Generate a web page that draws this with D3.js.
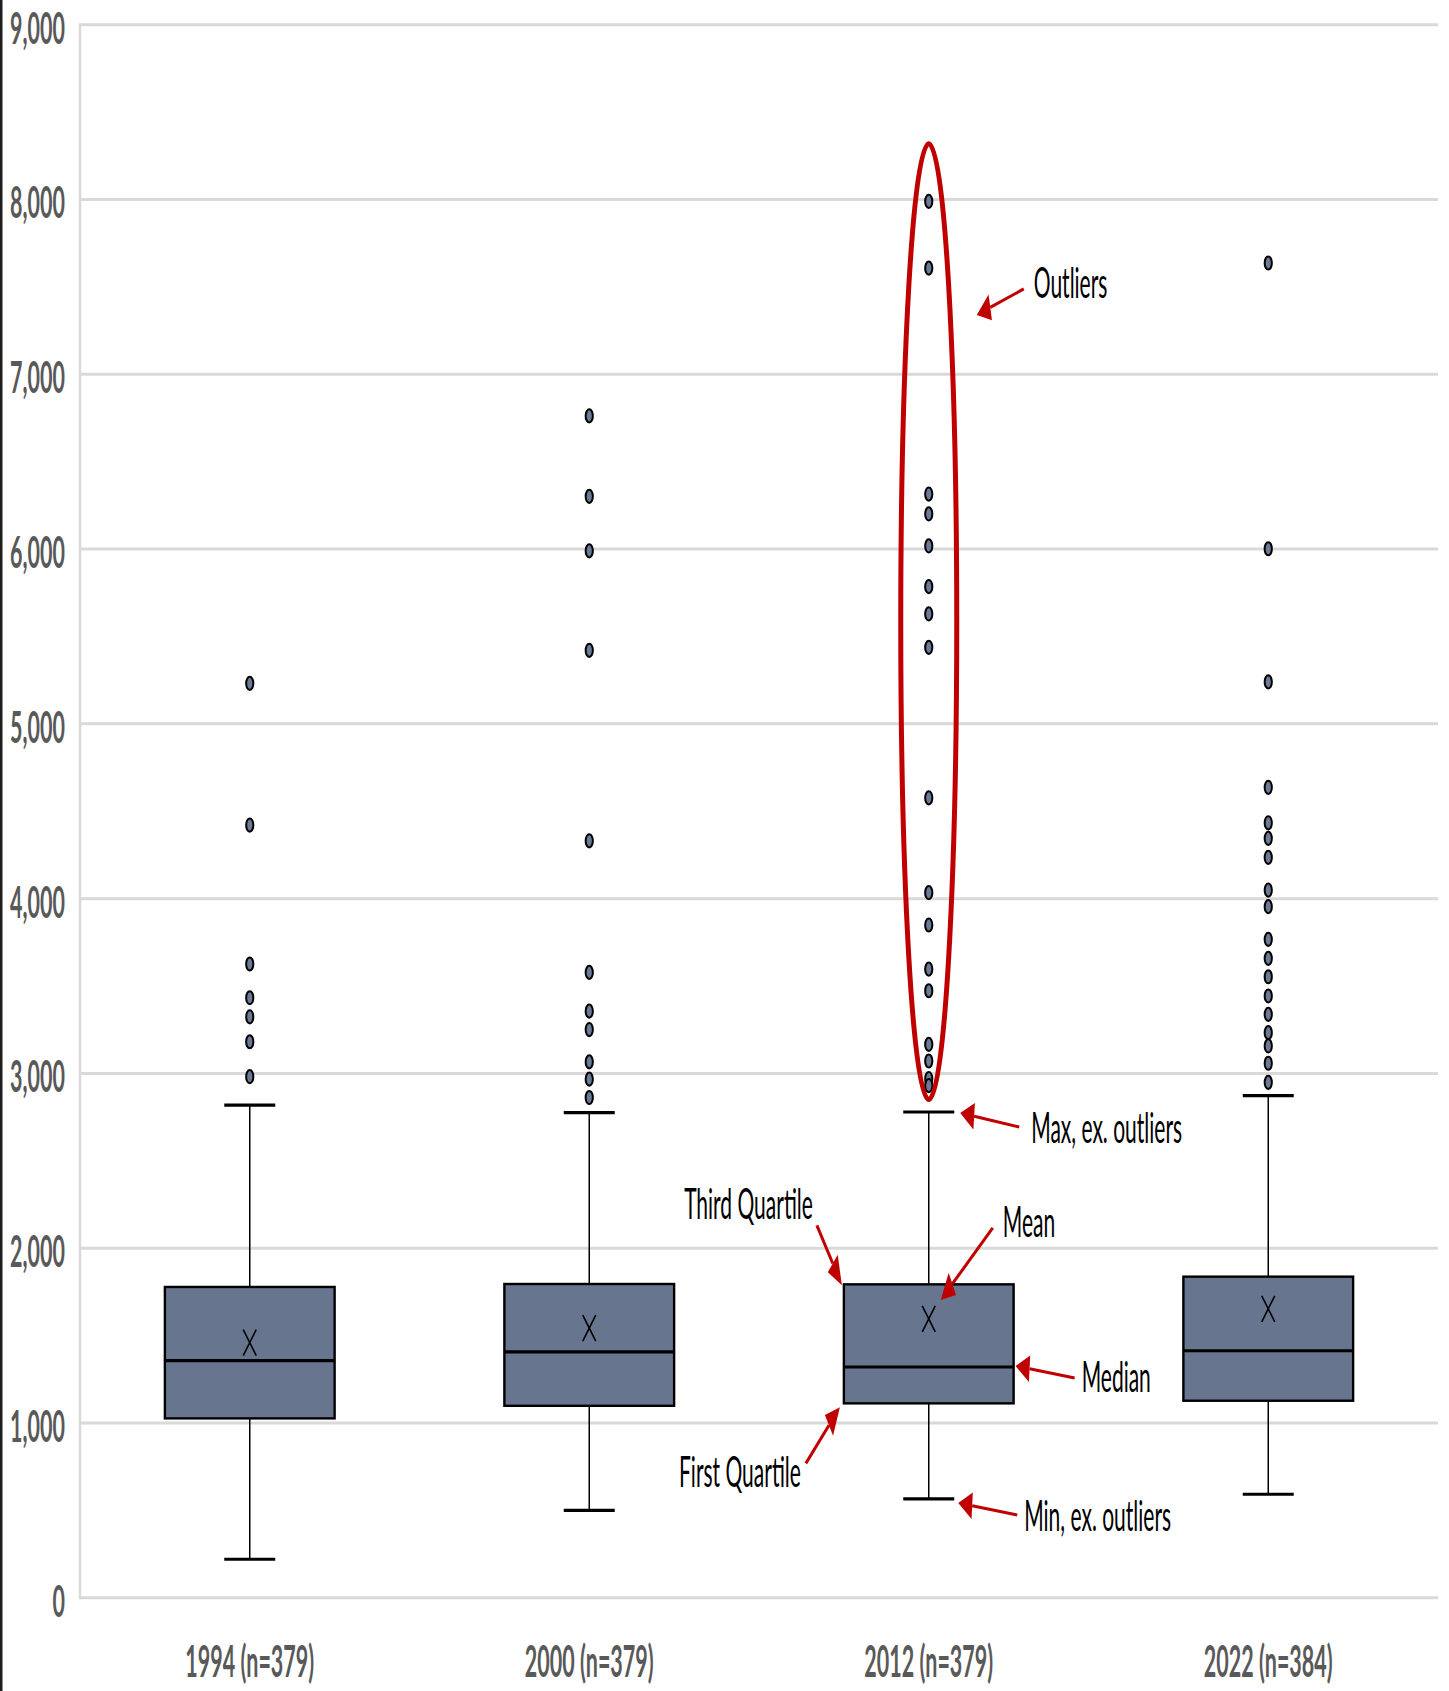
<!DOCTYPE html>
<html><head><meta charset="utf-8">
<script src="https://cdn.jsdelivr.net/npm/d3@7"></script>
<style>body{margin:0;background:#fff} svg{display:block}</style>
</head><body><svg id="c" width="1449" height="1691"></svg>
<script>
// ---- data ----
const categories = ["1994 (n=379)", "2000 (n=379)", "2012 (n=379)", "2022 (n=384)"];
const q1Values = [1026, 1098, 1112, 1127];
const medianValues = [1357, 1407, 1320, 1413];
const q3Values = [1778, 1795, 1793, 1837];
const meanValues = [1460, 1542, 1595, 1653];
const minValues = [220, 500, 565, 592];
const maxValues = [2819, 2776, 2779, 2873];
const outliers1994 = [5232, 4421, 3626, 3433, 3324, 3181, 2981];
const outliers2000 = [6762, 6302, 5990, 5421, 4331, 3578, 3356, 3251, 3066, 2967, 2862];
const outliers2012 = [7990, 7608, 6315, 6201, 6018, 5785, 5629, 5438, 4577, 4034, 3849, 3597, 3473, 3166, 3071, 2970, 2930];
const outliers2022 = [7637, 6002, 5240, 4637, 4434, 4345, 4236, 4049, 3954, 3767, 3658, 3553, 3443, 3338, 3233, 3157, 3058, 2949];
const outlierLists = [outliers1994, outliers2000, outliers2012, outliers2022];
const yTickValues = [0, 1000, 2000, 3000, 4000, 5000, 6000, 7000, 8000, 9000];

// ---- setup ----
const svg = d3.select('#c');
const x = d3.scaleBand().domain(categories).range([80, 1438]);
const y = d3.scaleLinear().domain([0, 9000]).range([1597.7, 24.8]);
const FONT = "Lato, 'Open Sans', sans-serif";
const SY = 2.05; // vertical stretch of the original picture

svg.append('rect').attr('width', 1449).attr('height', 1691).attr('fill', '#fff');
svg.append('rect').attr('x', 0).attr('y', 0).attr('width', 2.5).attr('height', 1691).attr('fill', '#1e1e1e');

// gridlines
svg.append('g').selectAll('line').data(yTickValues).join('line')
  .attr('x1', 80).attr('x2', 1438)
  .attr('y1', d => y(d)).attr('y2', d => y(d))
  .attr('stroke', '#d9d9d9').attr('stroke-width', 3);
svg.append('line').attr('x1', 80).attr('x2', 80)
  .attr('y1', y(9000) - 1.5).attr('y2', y(0) + 1.5)
  .attr('stroke', '#d9d9d9').attr('stroke-width', 2.5);

// y axis labels
const yAxis = svg.append('g').attr('transform', 'translate(80,0)')
  .call(d3.axisLeft(y).tickValues(yTickValues).tickSize(0).tickFormat(d3.format(',')));
yAxis.select('.domain').remove();
yAxis.selectAll('text')
  .attr('x', null).attr('dy', '0.36em')
  .attr('transform', `translate(-15,2.5) scale(1,${SY})`)
  .attr('fill', '#595959').attr('font-family', FONT).attr('font-weight', 'bold').attr('font-size', 21.5);

// x axis labels
const xAxis = svg.append('g').attr('transform', 'translate(0,1661)')
  .call(d3.axisBottom(x).tickSize(0));
xAxis.select('.domain').remove();
xAxis.selectAll('text')
  .attr('y', null).attr('dy', '0.36em')
  .attr('transform', `scale(1,${SY})`)
  .attr('fill', '#595959').attr('font-family', FONT).attr('font-weight', 'bold').attr('font-size', 21.5);

// boxes
const boxW = x.bandwidth() * 0.5;
const capHalf = 25.5;
const boxes = svg.append('g');
categories.forEach((c, i) => {
  const cx = x(c) + x.bandwidth() / 2;
  const g = boxes.append('g');
  g.append('line').attr('x1', cx).attr('x2', cx).attr('y1', y(minValues[i])).attr('y2', y(q1Values[i]))
    .attr('stroke', '#000').attr('stroke-width', 1.5);
  g.append('line').attr('x1', cx).attr('x2', cx).attr('y1', y(maxValues[i])).attr('y2', y(q3Values[i]))
    .attr('stroke', '#000').attr('stroke-width', 1.5);
  [minValues[i], maxValues[i]].forEach(v => {
    g.append('line').attr('x1', cx - capHalf).attr('x2', cx + capHalf).attr('y1', y(v)).attr('y2', y(v))
      .attr('stroke', '#000').attr('stroke-width', 3.2);
  });
  g.append('rect').attr('x', cx - boxW / 2).attr('width', boxW)
    .attr('y', y(q3Values[i])).attr('height', y(q1Values[i]) - y(q3Values[i]))
    .attr('fill', '#67758f').attr('stroke', '#000').attr('stroke-width', 2.4);
  g.append('line').attr('x1', cx - boxW / 2).attr('x2', cx + boxW / 2)
    .attr('y1', y(medianValues[i])).attr('y2', y(medianValues[i]))
    .attr('stroke', '#000').attr('stroke-width', 3.2);
  const my = y(meanValues[i]);
  g.append('path').attr('d', `M${cx - 6.5},${my - 13}L${cx + 6.5},${my + 13}M${cx + 6.5},${my - 13}L${cx - 6.5},${my + 13}`)
    .attr('stroke', '#000').attr('stroke-width', 1.6).attr('fill', 'none');
  g.selectAll('ellipse').data(outlierLists[i]).join('ellipse')
    .attr('cx', cx).attr('cy', d => y(d)).attr('rx', 3.6).attr('ry', 6.6)
    .attr('fill', '#6b7a96').attr('stroke', '#000').attr('stroke-width', 2);
});

// annotations on the 2012 box
const k = 2;
const acx = x(categories[k]) + x.bandwidth() / 2;
const ellipseTop = 8320, ellipseBottom = 2850, ellipseRx = 28;
const red = '#c00000';
svg.append('ellipse').attr('cx', acx).attr('cy', (y(ellipseTop) + y(ellipseBottom)) / 2)
  .attr('rx', ellipseRx).attr('ry', (y(ellipseBottom) - y(ellipseTop)) / 2)
  .attr('fill', 'none').attr('stroke', red).attr('stroke-width', 5);

const annotations = [
  {label: 'Outliers', ax: acx + ellipseRx, ay: y(7340), tip: [20, 0], tail: [67, -26], text: [77, -32], anchor: 'start'},
  {label: 'Max, ex. outliers', ax: acx + capHalf, ay: y(maxValues[k]), tip: [6, 1], tail: [65, 15], text: [77, 15], anchor: 'start'},
  {label: 'Mean', ax: acx, ay: y(meanValues[k]), tip: [12, -19], tail: [64, -91], text: [74, -97], anchor: 'start'},
  {label: 'Median', ax: acx + boxW / 2, ay: y(medianValues[k]), tip: [2, -1], tail: [61, 11], text: [68, 9], anchor: 'start'},
  {label: 'Min, ex. outliers', ax: acx + capHalf, ay: y(minValues[k]), tip: [4, 4], tail: [63, 16], text: [70, 17], anchor: 'start'},
  {label: 'Third Quartile', ax: acx - boxW / 2, ay: y(q3Values[k]), tip: [-2, 1], tail: [-27, -59], text: [-31, -81], anchor: 'end'},
  {label: 'First Quartile', ax: acx - boxW / 2, ay: y(q1Values[k]), tip: [-4, 4], tail: [-38, 60], text: [-43, 68], anchor: 'end'}
];
const ag = svg.append('g');
annotations.forEach(a => {
  const tx = a.ax + a.tip[0], ty = a.ay + a.tip[1];
  const sx = a.ax + a.tail[0], sy = a.ay + a.tail[1];
  // head computed in un-stretched space, then stretched vertically
  const vx = sx - tx, vy = (sy - ty) / SY;
  const len = Math.hypot(vx, vy);
  const ux = vx / len, uy = vy / len;
  const L = 14, hw = 6.5;
  const bx = tx + ux * L, by = ty / SY + uy * L;
  const p1 = [bx - uy * hw, (by + ux * hw) * SY];
  const p2 = [bx + uy * hw, (by - ux * hw) * SY];
  const baseY = by * SY;
  ag.append('line').attr('x1', sx).attr('y1', sy).attr('x2', bx).attr('y2', baseY)
    .attr('stroke', red).attr('stroke-width', 3);
  ag.append('path').attr('d', `M${tx},${ty}L${p1[0]},${p1[1]}L${p2[0]},${p2[1]}Z`).attr('fill', red);
  ag.append('text').text(a.label)
    .attr('transform', `translate(${a.ax + a.text[0]},${a.ay + a.text[1]}) scale(1,${SY})`)
    .attr('dy', '0.36em').attr('text-anchor', a.anchor)
    .attr('font-family', FONT).attr('font-size', 21).attr('fill', '#000');
});
</script></body></html>
